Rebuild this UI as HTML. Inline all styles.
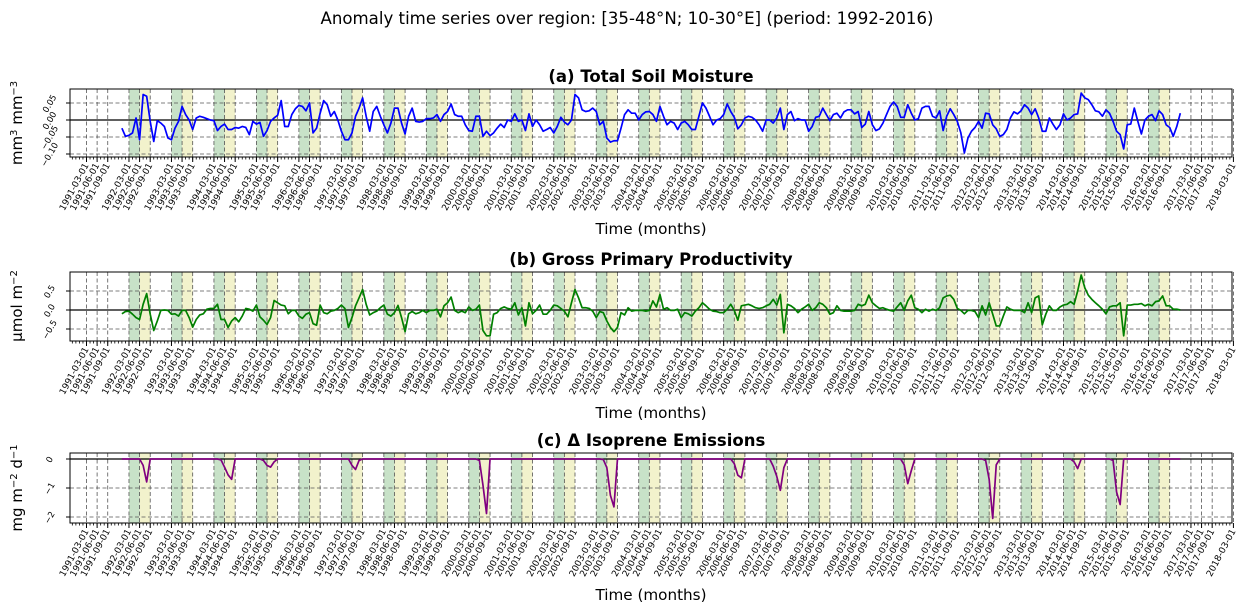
<!DOCTYPE html>
<html><head><meta charset="utf-8"><style>
body{margin:0;background:#fff}
svg{display:block;font-family:"DejaVu Sans","Liberation Sans",sans-serif}
</style></head><body>
<svg id="chart" width="1245" height="613" viewBox="0 0 1245 613" xmlns="http://www.w3.org/2000/svg">
<text x="627" y="24" text-anchor="middle" font-size="16.6">Anomaly time series over region: [35-48°N; 10-30°E] (period: 1992-2016)</text>
</svg>
<script>
const years=[];for(let y=1992;y<=2016;y++)years.push(y);
const smValues=[
-0.024,-0.048,-0.045,-0.038,0.006,-0.058,0.075,0.07,-0.004,-0.063,-0.002,-0.009,
-0.019,-0.053,-0.058,-0.024,-0.004,0.04,0.016,0,-0.028,0.006,0.011,0.008,
0.004,0,-0.002,-0.031,-0.019,-0.012,-0.028,-0.028,-0.022,-0.024,-0.019,-0.022,
-0.043,-0.004,-0.012,-0.007,-0.048,-0.031,-0.004,0.006,0.014,0.057,-0.019,-0.019,
0.016,0.033,0.043,0.04,0.027,0.05,-0.038,-0.024,0.02,0.057,0.045,0.011,
0.025,0,-0.033,-0.058,-0.058,-0.038,0.011,0.035,0.065,0.011,-0.033,0.025,
0.04,0.011,-0.014,-0.038,-0.009,0.035,0.035,-0.009,-0.041,0.011,0.035,-0.004,
-0.006,-0.004,0.004,0.004,0.006,0.016,-0.004,0.016,0.025,0.047,0.016,0.011,
0.011,-0.014,-0.031,-0.033,0.011,0.011,-0.048,-0.033,-0.046,-0.038,-0.024,-0.012,
-0.022,0,-0.004,0.018,-0.004,0,-0.031,0.018,-0.019,0,-0.014,-0.033,
-0.028,-0.022,-0.038,-0.019,0.008,-0.006,-0.014,0,0.075,0.065,0.03,0.025,
0.027,0.035,0.025,-0.014,-0.004,-0.053,-0.065,-0.061,-0.061,-0.024,0.016,0.03,
0.02,0.02,0,0.016,0.024,0.025,0.016,-0.004,0.04,0.011,-0.014,-0.004,
-0.009,-0.028,-0.009,-0.004,-0.014,-0.028,-0.028,0.011,0.05,0.035,0.011,-0.014,
0,0.004,0.016,0.047,0.025,0.008,-0.026,-0.014,0.006,0.011,0.008,0,
-0.014,-0.033,0,0,-0.009,0.006,0.035,-0.028,0.016,0.025,-0.002,0.004,
0,0,-0.033,-0.019,0.008,0.011,0.035,0.016,-0.002,0.016,0.02,0.006,
0.024,0.03,0.03,0.018,0.025,-0.022,-0.012,0.025,-0.014,-0.031,-0.026,-0.009,
0.016,0.04,0.053,0.04,0.008,0.008,0.045,0.02,0,0.004,0.035,0.04,
0.04,0.011,0.006,0.027,-0.031,0.011,0.033,0.016,-0.004,-0.038,-0.097,-0.053,
-0.033,-0.022,-0.004,-0.024,0.02,0.018,-0.014,-0.026,-0.048,-0.043,-0.028,0.006,
0.024,0.018,0.027,0.045,0.035,0.016,0.033,0.006,-0.033,-0.033,0.006,-0.012,
-0.028,-0.014,0.018,0,0.006,0.016,0.018,0.079,0.065,0.06,0.045,0.027,
0.024,0.011,0.03,0.02,-0.004,-0.033,-0.043,-0.085,-0.014,-0.012,0.035,-0.004,
-0.041,0,0.011,0.016,-0.002,0.027,0.016,-0.014,-0.022,-0.048,-0.019,0.02];
const gppValues=[
-0.10,-0.04,-0.03,-0.11,-0.20,-0.25,0.15,0.43,-0.11,-0.54,-0.29,-0.01,
0,-0.01,-0.11,-0.10,-0.16,-0.01,-0.01,-0.20,-0.45,-0.25,-0.13,-0.10,
0.02,0.04,0.04,0.15,-0.25,-0.25,-0.46,-0.29,-0.20,-0.31,-0.16,0.04,
0.02,-0.03,0.13,-0.18,-0.27,-0.38,-0.20,0.25,0.19,0.13,0.11,-0.10,
-0.01,-0.01,-0.16,-0.22,-0.11,-0.07,-0.36,-0.40,0.13,-0.07,-0.10,-0.03,
-0.01,0.04,0.13,0.04,-0.46,-0.20,0.11,0.32,0.54,0.15,-0.13,-0.07,
-0.03,0.06,0.13,-0.11,-0.16,-0.07,0.12,-0.20,-0.57,-0.10,-0.04,-0.10,
-0.07,-0.01,-0.07,-0.01,-0.01,0.02,-0.18,0.11,0.19,0.34,-0.01,-0.07,
-0.03,-0.07,0.08,-0.01,0.02,0.13,-0.54,-0.68,-0.68,-0.11,-0.07,0.04,
0.08,0.04,0.02,0.19,-0.13,0.06,-0.42,0.19,-0.10,-0.01,0.13,-0.11,
-0.11,-0.01,0.13,0.11,0.04,-0.03,-0.18,0.19,0.54,0.32,0.06,0.06,
0.04,-0.03,-0.20,-0.04,-0.07,-0.29,-0.46,-0.57,-0.46,-0.07,-0.13,0.06,
-0.03,-0.01,-0.01,-0.01,-0.03,-0.01,0.24,0.08,0.41,0.02,0.06,-0.01,
-0.01,0.02,-0.20,-0.07,-0.10,-0.16,-0.03,0.06,0.19,0.11,0.02,-0.03,
-0.04,-0.07,-0.07,0.02,0.15,-0.01,-0.27,0.11,0.13,0.15,0.11,0.06,
0.04,0.06,0.11,0.15,0.28,0.13,0.41,-0.60,0.15,0.11,0.04,-0.07,
0.02,0.08,0.15,-0.01,0.06,0.19,0.15,0.06,-0.11,-0.07,0.11,-0.01,
-0.03,-0.03,-0.03,-0.01,0.15,0.11,0.15,0.39,0.19,0.11,0.04,0.06,
0.02,-0.01,-0.03,0.08,0.19,-0.01,0.24,0.39,0.06,0.02,-0.07,0.02,
-0.03,0.02,-0.01,0.06,0.32,0.37,0.39,0.28,0.04,-0.01,-0.10,-0.01,
-0.01,-0.04,-0.20,0.11,-0.13,0.19,-0.11,-0.42,-0.42,-0.16,0.08,0.02,
-0.01,-0.01,-0.01,-0.07,0.19,-0.07,0.32,0.37,-0.39,-0.11,0.11,-0.01,
-0.01,0.08,0.13,0.15,0.22,0.15,0.5,0.92,0.59,0.39,0.28,0.19,
0.11,0.02,-0.10,0.08,0.11,0.11,0.19,-0.68,0.13,0.13,0.15,0.15,
0.17,0.11,0.15,0.11,0.22,0.24,0.37,0.11,0.11,0.02,0.02,0];
const isoValues=[
0,0,0,0,0,0,-0.22,-0.79,0,0,0,0,
0,0,0,0,0,0,0,0,0,0,0,0,
0,0,0,0,-0.03,-0.28,-0.55,-0.7,0,0,0,0,
0,0,0,0,-0.05,-0.22,-0.28,-0.1,0,0,0,0,
0,0,0,0,0,0,0,0,0,0,0,0,
0,0,0,0,0,-0.22,-0.36,-0.05,0,0,0,0,
0,0,0,0,0,0,0,0,0,0,0,0,
0,0,0,0,0,0,0,0,0,0,0,0,
0,0,0,0,0,-0.05,-0.9,-1.88,0,0,0,0,
0,0,0,0,0,0,0,0,0,0,0,0,
0,0,0,0,0,0,0,0,0,0,0,0,
0,0,0,0,-0.02,-0.3,-1.25,-1.65,0,0,0,0,
0,0,0,0,0,0,0,0,0,0,0,0,
0,0,0,0,0,0,0,0,0,0,0,0,
0,0,0,0,0,-0.16,-0.56,-0.65,0,0,0,0,
0,0,0,0,-0.25,-0.6,-1.08,-0.3,0,0,0,0,
0,0,0,0,0,0,0,0,0,0,0,0,
0,0,0,0,0,0,0,0,0,0,0,0,
0,0,0,0,0,-0.2,-0.85,-0.4,0,0,0,0,
0,0,0,0,0,0,0,0,0,0,0,0,
0,0,0,0,-0.05,-0.7,-2.05,-0.2,0,0,0,0,
0,0,0,0,0,0,0,0,0,0,0,0,
0,0,0,0,0,-0.1,-0.33,0,0,0,0,0,
0,0,0,0,-0.05,-1.14,-1.57,0,0,0,0,0,
0,0,0,0,0,0,0,0,0,0,0,0];
const smTicks=[0.05,0,-0.05,-0.10];
const smTickLabels=["0.05","0.00","\u22120.05","\u22120.10"];
const gppTicks=[0.5,0,-0.5];
const gppTickLabels=["0.5","0.0","\u22120.5"];
const isoTicks=[0,-1,-2];
const isoTickLabels=["0","\u22121","\u22122"];

const NS="http://www.w3.org/2000/svg";
const svg=document.getElementById('chart');
const X0=70,X1=1232,M0=-14.66,M1=313.6;
function xScale(m){return X0+(m-M0)/(M1-M0)*(X1-X0);}
function el(tag,attrs,parent){const e=document.createElementNS(NS,tag);for(const k in attrs)e.setAttribute(k,attrs[k]);(parent||svg).appendChild(e);return e;}
const panels=[
 {id:'soil-moisture',title:'(a) Total Soil Moisture',top:89,bot:157,vTop:0.0912,vBot:-0.1088,vals:smValues,ticks:smTicks,labels:smTickLabels,color:'#0000ff',ylab:'mm<tspan dy="-5" font-size="10">3</tspan><tspan dy="5"> mm</tspan><tspan dy="-5" font-size="10">\u22123</tspan>',ycy:123},
 {id:'gpp',title:'(b) Gross Primary Productivity',top:272,bot:341,vTop:1.0,vBot:-0.816,vals:gppValues,ticks:gppTicks,labels:gppTickLabels,color:'#008000',ylab:'\u03bcmol m<tspan dy="-5" font-size="10">\u22122</tspan>',ycy:306},
 {id:'isoprene',title:'(c) \u0394 Isoprene Emissions',top:453,bot:523,vTop:0.207,vBot:-2.207,vals:isoValues,ticks:isoTicks,labels:isoTickLabels,color:'#800080',ylab:'mg m<tspan dy="-5" font-size="10">\u22122</tspan><tspan dy="5"> d</tspan><tspan dy="-5" font-size="10">\u22121</tspan>',ycy:488}
];
panels.forEach(p=>{
 const g=el('g',{});
 
 
 const yS=v=>p.top+(p.vTop-v)/(p.vTop-p.vBot)*(p.bot-p.top);
 years.forEach(y=>{
  const m=(y-1992)*12;
  const s1=el('rect',{x:xScale(m+2),y:p.top,width:xScale(m+5)-xScale(m+2),height:p.bot-p.top,fill:'#c8e2c8'},g);
  
  
  const s2=el('rect',{x:xScale(m+5),y:p.top,width:xScale(m+8)-xScale(m+5),height:p.bot-p.top,fill:'#f2f2cc'},g);
  
  
 });
 const major=[];
 for(let y=1991;y<=2017;y++){[2,5,8].forEach(mo=>major.push({m:(y-1992)*12+mo,l:y+'-'+String(mo+1).padStart(2,'0')+'-01'}));}
 major.push({m:(2018-1992)*12+2,l:'2018-03-01'});
 major.forEach(t=>{
  const x=xScale(t.m);
  const gl=el('line',{x1:x,x2:x,y1:p.top,y2:p.bot,stroke:'#555','stroke-width':0.8,'stroke-dasharray':'4,2.5'},g);
  
  
  el('line',{x1:x,x2:x,y1:p.bot,y2:p.bot+5,stroke:'#000','stroke-width':1},g);
  const tx=el('text',{x:0,y:0,'font-size':'9','text-anchor':'end',transform:`translate(${x+2.5},${p.bot+8}) rotate(-62)`},g);
  tx.textContent=t.l;
  
  
 });
 for(let m=-14;m<=313;m++){const x=xScale(m);el('line',{x1:x,x2:x,y1:p.bot,y2:p.bot+2.5,stroke:'#000','stroke-width':0.8},g);}
 p.ticks.forEach((v,i)=>{
  const y=yS(v);
  const gl=el('line',{x1:X0,x2:X1,y1:y,y2:y,stroke:'#555','stroke-width':0.8,'stroke-dasharray':'4,2.5'},g);
  
  
  el('line',{x1:X0-4,x2:X0,y1:y,y2:y,stroke:'#000','stroke-width':1},g);
  const tx=el('text',{x:0,y:0,'font-size':'8.5','text-anchor':'middle',transform:`translate(${X0-18},${y+2}) rotate(-60)`},g);
  tx.textContent=p.labels[i];
  
  
 });
 const z=el('line',{x1:X0,x2:X1,y1:yS(0),y2:yS(0),stroke:'#000','stroke-width':1.2},g);
 
 
 const pts=p.vals.map((v,i)=>xScale(i).toFixed(2)+','+yS(v).toFixed(2)).join(' ');
 const pl=el('polyline',{points:pts,fill:'none',stroke:p.color,'stroke-width':1.7,'stroke-linejoin':'round'},g);
 
 
 const fr=el('rect',{x:X0,y:p.top,width:X1-X0,height:p.bot-p.top,fill:'none',stroke:'#000','stroke-width':1},g);
 
 
 const tt=el('text',{x:651,y:p.top-7,'text-anchor':'middle','font-size':'16.5','font-weight':'bold'},g);
 tt.textContent=p.title;
 
 
 const xt=el('text',{x:651,y:p.bot+77,'text-anchor':'middle','font-size':'15.2'},g);
 xt.textContent='Time (months)';
 
 
 const yt=el('text',{x:0,y:0,'text-anchor':'middle','font-size':'15',transform:`translate(22,${p.ycy}) rotate(-90)`},g);
 yt.innerHTML=p.ylab;
 
 
});
</script>
</body></html>
